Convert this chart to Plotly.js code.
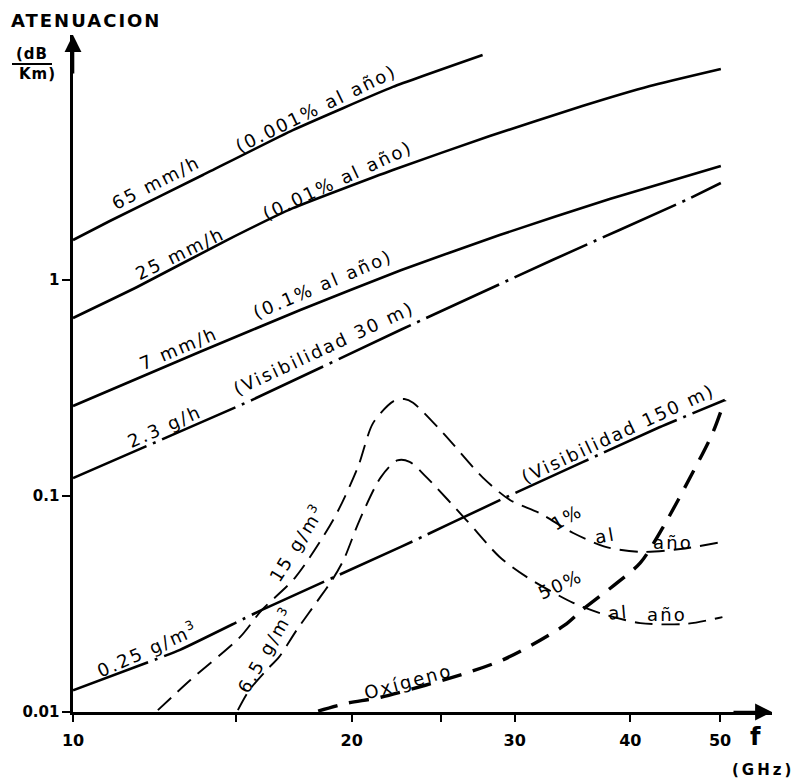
<!DOCTYPE html>
<html>
<head>
<meta charset="utf-8">
<script src="https://cdn.plot.ly/plotly-3.0.1.min.js"></script>
<style>html,body{margin:0;padding:0;background:#fff;}</style>
</head>
<body>
<div id="chart" style="width:800px;height:780px;"></div>
<script>
// ---- Data (frequency in GHz, attenuation in dB/km) ----
const freqRain65 = [10, 10.96, 13.81, 17.28, 22.16, 27.7];
const attRain65  = [1.53, 1.875, 3.06, 4.94, 7.83, 11.0];

const freqRain25 = [10, 11.73, 14.67, 17.28, 22.16, 28.2, 35.5, 42.0, 50.1];
const attRain25  = [0.667, 0.928, 1.53, 2.15, 3.23, 4.64, 6.39, 7.91, 9.48];

const freqRain7 = [10, 13.7, 17.6, 22.6, 28.9, 38.0, 50.1];
const attRain7  = [0.261, 0.464, 0.726, 1.11, 1.615, 2.37, 3.37];

const freqFog30 = [10, 15.6, 22.6, 33.0, 46.0, 50.1];
const attFog30  = [0.121, 0.278, 0.588, 1.24, 2.35, 2.81];

const freqFog150 = [10, 13.05, 16.0, 22.6, 29.4, 43.0, 50.6];
const attFog150  = [0.0126, 0.0194, 0.0297, 0.0581, 0.0989, 0.208, 0.278];

const freqO2 = [18.4, 19.8, 21.5, 26.8, 29.1, 31.3, 34.0, 35.5, 38.7, 41.0, 43.4, 46.7, 49.1, 50.6];
const attO2  = [0.0101, 0.0110, 0.0117, 0.0153, 0.0174, 0.0204, 0.0253, 0.0297, 0.0396, 0.049, 0.0718, 0.128, 0.196, 0.278];

const freqWV15 = [12.35, 13.4, 15.15, 16.0, 17.36, 19.1, 20.3, 21.1, 22.2, 22.8, 23.3, 25.1, 27.7, 29.65, 31.9, 34.7, 37.7, 41.0, 45.3, 50.2];
const attWV15  = [0.0102, 0.0141, 0.0222, 0.0297, 0.0417, 0.0774, 0.135, 0.218, 0.275, 0.281, 0.27, 0.196, 0.122, 0.0958, 0.0834, 0.0674, 0.058, 0.0551, 0.0568, 0.0612];

const freqWV65 = [15.07, 15.5, 16.2, 16.7, 17.45, 18.5, 19.05, 19.6, 20.4, 21.5, 22.4, 23.1, 24.1, 26.6, 28.9, 30.9, 34.7, 37.1, 41.0, 46.0, 50.3];
const attWV65  = [0.0102, 0.0126, 0.0157, 0.0180, 0.0240, 0.0341, 0.0408, 0.0505, 0.0774, 0.122, 0.146, 0.144, 0.122, 0.0774, 0.0522, 0.0422, 0.032, 0.0287, 0.0258, 0.0256, 0.0275];

const xTickVals = [10, 15, 20, 25, 30, 40, 50];
const xTickText = ['10', '', '20', '', '30', '40', '50'];
const yTickVals = [0.01, 0.1, 1];
const yTickText = ['0.01', '0.1', '1'];

// ---- Styling ----
const FONT = 'DejaVu Sans, Verdana, sans-serif';
const solid = {color: '#000', width: 2.6, shape: 'spline', smoothing: 0.4};
const dashDot = {color: '#000', width: 2.6, dash: '80px,7px,3px,7px', shape: 'spline', smoothing: 0.4};
const wvLine = {color: '#000', width: 1.9, dash: '18px,9px', shape: 'spline', smoothing: 0.8};
const o2Line = {color: '#000', width: 3.4, dash: '20px,12px', shape: 'spline', smoothing: 0.8};

function tr(x, y, line) {
  return {x: x, y: y, type: 'scatter', mode: 'lines', line: line, hoverinfo: 'skip', showlegend: false};
}

const traces = [
  tr(freqRain65, attRain65, solid),
  tr(freqRain25, attRain25, solid),
  tr(freqRain7, attRain7, solid),
  tr(freqFog30, attFog30, dashDot),
  tr(freqFog150, attFog150, dashDot),
  tr(freqO2, attO2, o2Line),
  tr(freqWV15, attWV15, wvLine),
  tr(freqWV65, attWV65, wvLine)
];

// plot area in pixels: left 73, right 772, top 35, bottom 712
const L = 73, R = 772, T = 35, B = 712;
function px(xp) { return (xp - L) / (R - L); }
function py(yp) { return (B - yp) / (B - T); }
function lab(text, xp, yp, angle, size, bold, spacing) {
  const sp = spacing === undefined ? 2.2 : spacing;
  return {
    text: '<span style="letter-spacing:' + sp + 'px">' + text + '</span>',
    xref: 'paper', yref: 'paper', x: px(xp), y: py(yp),
    xanchor: 'center', yanchor: 'middle', showarrow: false,
    textangle: angle || 0,
    font: {family: FONT, size: size || 18, color: '#000', weight: bold ? 'bold' : 'normal'}
  };
}

const annotations = [
  lab('65 mm/h', 156, 183, -27),
  lab('(0.001% al año)', 316, 109, -26),
  lab('25 mm/h', 180, 254, -26),
  lab('(0.01% al año)', 337, 180, -25),
  lab('7 mm/h', 178, 348, -23),
  lab('(0.1% al año)', 322, 284, -23),
  lab('2.3 g/h', 164, 426, -24),
  lab('(Visibilidad 30 m)', 323, 348, -25),
  lab('0.25 g/m<sup>3</sup>', 147, 649, -24),
  lab('(Visibilidad 150 m)', 618, 434, -25),
  lab('15 g/m<sup>3</sup>', 296, 543, -58),
  lab('6.5 g/m<sup>3</sup>', 265, 650, -60),
  lab('1%', 566, 517, -30),
  lab('al', 605, 535, -10),
  lab('año', 673, 542, 0),
  lab('50%', 560, 584, -25),
  lab('al', 618, 612, -5),
  lab('año', 667, 614, 0),
  lab('Oxígeno', 408, 681, -15),
  lab('ATENUACION', 86, 20, 0, 18, true, 2),
  lab('(dB', 32, 54, 0, 15, true, 1),
  lab('Km)', 37, 74, 0, 15, true, 1),
  lab('f', 755, 737, 0, 24, true, 0),
  lab('(GHz)', 763, 770, 0, 15, true, 3),
  // axis arrows
  {xref: 'paper', yref: 'paper', x: 0, y: 1, ax: 0, ay: 40, showarrow: true,
   arrowhead: 2, arrowsize: 1.3, arrowwidth: 2.6, arrowcolor: '#000', text: ''},
  {xref: 'paper', yref: 'paper', x: 1, y: 0, ax: -40, ay: 0, showarrow: true,
   arrowhead: 2, arrowsize: 1.3, arrowwidth: 2.6, arrowcolor: '#000', text: ''}
];

const shapes = [
  {type: 'line', xref: 'paper', yref: 'paper', x0: px(12), x1: px(52), y0: py(64), y1: py(64),
   line: {color: '#000', width: 2}}
];

const layout = {
  width: 800, height: 780,
  margin: {l: L, r: 800 - R, t: T, b: 780 - B, pad: 0},
  paper_bgcolor: '#fff', plot_bgcolor: '#fff',
  showlegend: false,
  xaxis: {
    type: 'log', range: [1, Math.log10(56.9)],
    showgrid: false, zeroline: false, showline: true, linecolor: '#000', linewidth: 2.6,
    ticks: 'outside', ticklen: 7, tickwidth: 2, tickcolor: '#000',
    tickvals: xTickVals, ticktext: xTickText, ticklabelstandoff: 5,
    tickfont: {family: FONT, size: 16, color: '#000', weight: 'bold'}
  },
  yaxis: {
    type: 'log', range: [-2, 1.134],
    showgrid: false, zeroline: false, showline: true, linecolor: '#000', linewidth: 2.6,
    ticks: 'outside', ticklen: 8, tickwidth: 2, tickcolor: '#000',
    tickvals: yTickVals, ticktext: yTickText,
    tickfont: {family: FONT, size: 15, color: '#000', weight: 'bold'}
  },
  annotations: annotations,
  shapes: shapes
};

Plotly.newPlot('chart', traces, layout, {staticPlot: true, displayModeBar: false});
</script>
</body>
</html>
